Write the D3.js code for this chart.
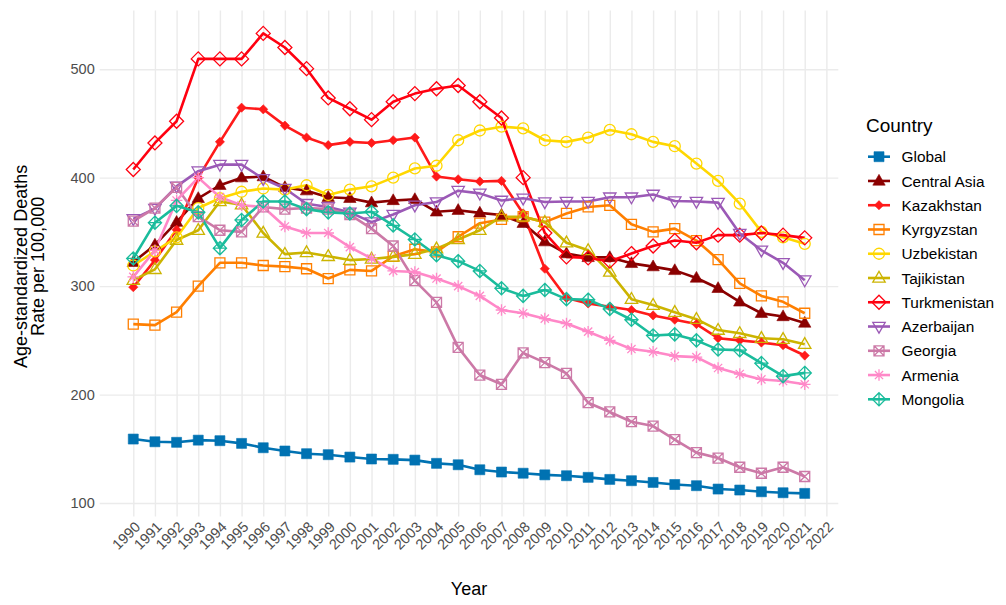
<!DOCTYPE html>
<html>
<head>
<meta charset="utf-8">
<script src="https://cdn.jsdelivr.net/npm/d3@7"></script>
<style>
body { margin: 0; background: #fff; }
text { font-family: "Liberation Sans", Arial, Helvetica, sans-serif; }
</style>
</head>
<body>
<div id="chart"></div>
<script>
const years = [1990, 1991, 1992, 1993, 1994, 1995, 1996, 1997, 1998, 1999, 2000,
    2001, 2002, 2003, 2004, 2005, 2006, 2007, 2008, 2009, 2010,
    2011, 2012, 2013, 2014, 2015, 2016, 2017, 2018, 2019, 2020, 2021];
const xTicks = [1990, 1991, 1992, 1993, 1994, 1995, 1996, 1997, 1998, 1999, 2000,
    2001, 2002, 2003, 2004, 2005, 2006, 2007, 2008, 2009, 2010,
    2011, 2012, 2013, 2014, 2015, 2016, 2017, 2018, 2019, 2020, 2021, 2022];
const yTicks = [100, 200, 300, 400, 500];

const countries = ["Global", "Central Asia", "Kazakhstan", "Kyrgyzstan", "Uzbekistan",
    "Tajikistan", "Turkmenistan", "Azerbaijan", "Georgia", "Armenia", "Mongolia"];

const globalRate = [159, 156.5, 156, 158, 157.5, 155, 151, 148, 145.5, 144.6, 142.4,
    140.6, 140.3, 139.6, 136.6, 135.3, 130.7, 128.6, 127.5, 126, 125.2,
    123.7, 121.8, 120.6, 119, 117.1, 116, 112.9, 112, 110.4, 109.5, 108.9];
const centralAsia = [322, 338, 359, 381, 393, 400, 401, 391, 388, 382, 381,
    377, 379, 380, 368.5, 370, 367.5, 365.5, 358, 341, 330,
    326.5, 326.5, 321, 318, 314.5, 307.5, 298, 285.5, 275, 272, 266];
const kazakhstan = [299, 324, 352, 400, 433, 464.5, 463, 448, 437, 430, 433,
    432, 434.5, 437, 401, 398.5, 396.5, 397, 367, 316, 289,
    284, 281, 278, 273, 269, 265, 252, 250, 248, 245.5, 236];
const kyrgyzstan = [265, 264, 276, 300, 321.5, 321.5, 319, 318, 316, 307, 315,
    314, 327.5, 334, 331.5, 345.5, 358, 361.5, 364, 359, 367,
    373, 374.5, 357, 350, 353, 342, 324.5, 302.5, 291, 285.5, 275];
const uzbekistan = [319, 332, 345, 372, 381, 387, 390, 389, 393, 384, 389,
    392, 400, 408.5, 411, 434.5, 443.5, 447, 445.5, 434.5, 433,
    437, 444, 440, 433, 429, 413, 397, 376, 350, 345, 339];
const tajikistan = [305.5, 315.5, 342.5, 351.5, 378, 375, 349, 329.5, 331, 327.5, 324,
    325, 327, 329.5, 334.5, 343, 351.5, 364, 364, 359, 340,
    333, 313, 288, 282.5, 276, 269.5, 259.5, 256.5, 252, 251, 246.5];
const turkmenistan = [407.5, 432, 452, 509.5, 509.5, 509.5, 533, 520, 500.5, 473.5, 463.5,
    453.5, 470, 477.5, 482, 485, 470, 455, 400, 349, 327,
    326, 323, 330, 337, 342, 340, 347, 347, 349, 347, 344.5];
const azerbaijan = [362, 371.5, 392, 406, 412, 412, 399, 390, 376, 373, 368,
    359, 366, 374.5, 377.5, 388, 385.5, 379, 381, 377.5, 378,
    378, 382, 382, 384.5, 378.5, 378, 377, 348.5, 333, 321.5, 305.5];
const georgia = [360, 372, 391, 364, 351.5, 350, 373, 371, 372, 371, 366,
    353, 337, 305, 285, 243.5, 218, 209.5, 238.5, 229.5, 219.5,
    192.5, 184, 175, 171, 158.5, 146.5, 141.5, 133, 127.5, 133, 124.5];
const armenia = [308.5, 333, 379, 400, 382, 374.5, 373, 355, 349, 349, 336,
    325.5, 314, 313, 307, 300, 291, 278, 275, 270, 265.5,
    258, 250, 242, 239.5, 235.5, 234.5, 224.5, 219, 214, 212.5, 209.5];
const mongolia = [325.5, 358.5, 374, 368, 335, 361, 378, 378, 371, 368, 367,
    368.5, 356, 343, 328.5, 323, 314, 298, 291, 296.5, 288,
    287.5, 279, 269, 254.5, 255.5, 250, 241.5, 241, 229, 217, 220];

const seriesValues = [globalRate, centralAsia, kazakhstan, kyrgyzstan, uzbekistan,
    tajikistan, turkmenistan, azerbaijan, georgia, armenia, mongolia];

const colors = ["#0072B2", "#8B0000", "#FF1A1A", "#FF7F00", "#FFD700",
    "#CCB400", "#FF0010", "#9B59B6", "#CC79A7", "#FF88C8", "#1ABC9C"];
const shapes = ["square", "triangle", "diamondSmall", "squareOpen", "circleOpen",
    "triangleOpen", "diamondOpen", "triangleDown", "squareCross", "asterisk", "diamondPlus"];

const width = 1006, height = 605;
const panel = {left: 99.7, right: 838.3, top: 10.4, bottom: 516.4};

function shapePath(kind) {
    switch (kind) {
        case "square":
        case "squareOpen":
            return "M-5,-5h10v10h-10Z";
        case "squareCross":
            return "M-5,-5h10v10h-10Z M-5,-5L5,5 M5,-5L-5,5";
        case "triangle":
        case "triangleOpen":
            return "M0,-6.6L6.2,4.2L-6.2,4.2Z";
        case "triangleDown":
            return "M0,6.6L6.2,-4.2L-6.2,-4.2Z";
        case "diamondSmall":
            return "M0,-4.6L4.6,0L0,4.6L-4.6,0Z";
        case "diamondOpen":
            return "M0,-7L7,0L0,7L-7,0Z";
        case "diamondPlus":
            return "M0,-6.6L6.6,0L0,6.6L-6.6,0Z M0,-6.6V6.6 M-6.6,0H6.6";
        case "circleOpen":
            return "M5.5,0A5.5,5.5 0 1,1 -5.5,0A5.5,5.5 0 1,1 5.5,0Z";
        case "asterisk":
            return "M0,-5.8V5.8 M-5.8,0H5.8 M-4.1,-4.1L4.1,4.1 M4.1,-4.1L-4.1,4.1";
    }
}

const isFilled = (kind) => kind === "square" || kind === "triangle" || kind === "diamondSmall";

function drawMarker(sel, kind, color) {
    sel.append("path")
        .attr("d", shapePath(kind))
        .attr("fill", isFilled(kind) ? color : "none")
        .attr("stroke", color)
        .attr("stroke-width", isFilled(kind) ? 0.6 : 1.3)
        .attr("stroke-linejoin", "miter");
}

const series = countries.map((name, i) => ({
    name: name,
    color: colors[i],
    shape: shapes[i],
    values: years.map((yr, j) => ({year: yr, value: seriesValues[i][j]}))
}));

const allValues = seriesValues.flat();
const yMin = d3.min(allValues), yMax = d3.max(allValues);
const yPad = (yMax - yMin) * 0.05;
const xPad = (d3.max(years) - d3.min(years)) * 0.05;

const x = d3.scaleLinear()
    .domain([d3.min(years) - xPad, d3.max(years) + xPad])
    .range([panel.left, panel.right]);
const y = d3.scaleLinear()
    .domain([yMin - yPad, yMax + yPad])
    .range([panel.bottom, panel.top]);

const svg = d3.select("#chart").append("svg")
    .attr("width", width)
    .attr("height", height)
    .attr("viewBox", [0, 0, width, height]);

// grid + tick labels
const xAxis = svg.append("g")
    .attr("transform", `translate(0,${panel.bottom})`)
    .call(d3.axisBottom(x).tickValues(xTicks).tickFormat(d3.format("d"))
        .tickSize(-(panel.bottom - panel.top)).tickPadding(0));
xAxis.select(".domain").remove();
xAxis.selectAll(".tick line").attr("stroke", "#EBEBEB").attr("stroke-width", 1.4);
xAxis.selectAll(".tick text")
    .attr("y", null)
    .attr("dy", "0.62em")
    .attr("transform", "translate(1,5) rotate(-45)")
    .style("text-anchor", "end")
    .style("font-size", "14.5px")
    .attr("fill", "#4D4D4D");

const yAxis = svg.append("g")
    .attr("transform", `translate(${panel.left},0)`)
    .call(d3.axisLeft(y).tickValues(yTicks)
        .tickSize(-(panel.right - panel.left)).tickPadding(5));
yAxis.select(".domain").remove();
yAxis.selectAll(".tick line").attr("stroke", "#EBEBEB").attr("stroke-width", 1.4);
yAxis.selectAll(".tick text")
    .style("font-size", "14.5px")
    .attr("fill", "#4D4D4D");
xAxis.lower();
yAxis.lower();

const line = d3.line()
    .x(d => x(d.year))
    .y(d => y(d.value));

svg.append("g")
    .selectAll("path")
    .data(series)
    .join("path")
    .attr("d", d => line(d.values))
    .attr("fill", "none")
    .attr("stroke", d => d.color)
    .attr("stroke-width", 2.6)
    .attr("stroke-linejoin", "round");

const pointGroups = svg.append("g")
    .selectAll("g")
    .data(series)
    .join("g");

pointGroups.each(function (s) {
    d3.select(this).selectAll("g")
        .data(s.values)
        .join("g")
        .attr("transform", d => `translate(${x(d.year)},${y(d.value)})`)
        .each(function () { drawMarker(d3.select(this), s.shape, s.color); });
});

// axis titles
svg.append("text")
    .attr("x", (panel.left + panel.right) / 2)
    .attr("y", 595)
    .attr("text-anchor", "middle")
    .style("font-size", "18px")
    .text("Year");

const yTitle = svg.append("text")
    .attr("transform", `translate(27,${(panel.top + panel.bottom) / 2 + 3}) rotate(-90)`)
    .attr("text-anchor", "middle")
    .style("font-size", "18px");
yTitle.append("tspan").attr("x", 0).attr("y", 0).text("Age-standardized Deaths");
yTitle.append("tspan").attr("x", 0).attr("y", 16.5).text("Rate per 100,000");

// legend
const legend = svg.append("g").attr("transform", "translate(866,0)");
legend.append("text")
    .attr("x", 0)
    .attr("y", 132)
    .style("font-size", "19px")
    .text("Country");

const legendItem = legend.selectAll("g.item")
    .data(series)
    .join("g")
    .attr("class", "item")
    .attr("transform", (d, i) => `translate(0,${156.7 + i * 24.26})`);

legendItem.append("line")
    .attr("x1", 2).attr("x2", 24)
    .attr("stroke", d => d.color)
    .attr("stroke-width", 2.6);
legendItem.each(function (d) {
    drawMarker(d3.select(this).append("g").attr("transform", "translate(13,0)"), d.shape, d.color);
});
legendItem.append("text")
    .attr("x", 35.5)
    .attr("dy", "0.36em")
    .style("font-size", "15.4px")
    .text(d => d.name);
</script>
</body>
</html>
